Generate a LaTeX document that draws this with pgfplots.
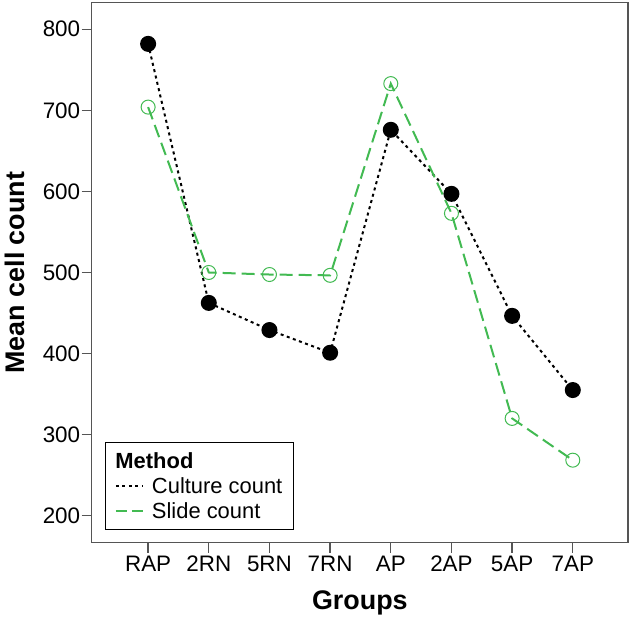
\documentclass[border=0pt]{standalone}
\usepackage{fontspec}
\setmainfont{Liberation Sans}
\usepackage{pgfplots}
\pgfplotsset{compat=1.18}
\definecolor{sgreen}{RGB}{66,186,82}
\definecolor{axgray}{RGB}{85,85,85}
\pgfplotsset{myleg/.style={legend image code/.code={\draw[##1] (0bp,0bp) -- (27bp,0bp); \path (33bp,0bp);}}}
\begin{document}
\begin{tikzpicture}
\begin{axis}[name=ax, scale only axis, width=536.3bp, height=540bp,
 xmin=-0.93, xmax=7.91, ymin=166.7, ymax=832.8,
 xtick={0,...,7}, xticklabels={RAP,2RN,5RN,7RN,AP,2AP,5AP,7AP},
 ytick={200,300,...,800},
 tick align=outside, major tick length=10bp,
 tick style={axgray, line width=1.3bp},
 xtick pos=bottom, ytick pos=left,
 axis line style={axgray, line width=1.3bp},
 tick label style={font=\fontsize{22.5}{26}\selectfont},
 yticklabel style={xshift=2bp},
 /pgf/number format/assume math mode=true,
 xlabel={Groups}, ylabel={Mean cell count},
 label style={font=\fontsize{27}{32}\selectfont\bfseries},
 xlabel style={at={(axis description cs:0.5,-0.111)}, anchor=center},
 ylabel style={at={(axis description cs:-0.1437,0.5)}, anchor=center},
 legend style={at={(axis description cs:0.0248,0.0235)}, anchor=south west,
   draw=black, line width=1bp, font=\fontsize{22}{26}\selectfont,
   inner xsep=9.5bp, inner ysep=9bp, row sep=5.5bp,
   nodes={inner ysep=1bp}},
 legend cell align=left,
]
\addlegendimage{empty legend}
\addlegendentry{\hspace*{-36.5bp}\textbf{Method}}
\addlegendimage{myleg, black, line width=2bp, dash pattern=on 3bp off 3.5bp}
\addlegendentry{Culture count}
\addlegendimage{myleg, sgreen, line width=2bp, dash pattern=on 11bp off 5bp}
\addlegendentry{Slide count}
\addplot[forget plot, black, line width=2bp, dash pattern=on 3bp off 3.5bp, mark=*, mark size=7bp, mark options={solid, fill=black}]
 coordinates {(0,782) (1,462.5) (2,429) (3,401) (4,676) (5,597) (6,446.5) (7,355)};
\addplot[forget plot, sgreen, line width=2bp, dash pattern=on 13bp off 6bp, mark=o, mark size=7bp, mark options={solid, line width=1bp}]
 coordinates {(0,704) (1,500) (2,497.5) (3,496.5) (4,733) (5,573) (6,320) (7,268.5)};
\end{axis}
\pgfresetboundingbox
\path[use as bounding box] ([xshift=-91.7bp,yshift=-77.3bp]ax.south west) rectangle ([xshift=5bp,yshift=2.7bp]ax.north east);
\end{tikzpicture}
\end{document}
